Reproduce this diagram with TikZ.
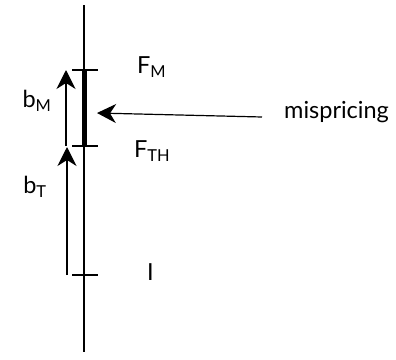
\documentclass[tikz,border=0pt]{standalone}
\usepackage{fontspec}
\setmainfont{Lato}
\usetikzlibrary{arrows.meta, positioning}

\begin{document}
\begin{tikzpicture}[x=1pt,y=-1pt, every node/.style={font=\fontsize{23.5}{26}\selectfont, inner sep=0pt},
    tick/.style={line width=1.6pt},
    up/.style={line width=1.2pt, -{Stealth[length=19pt,width=19pt,inset=6pt]}}]
    \useasboundingbox (0,0) rectangle (396,359);
    % price axis
    \coordinate (axtop) at (84,5);
    \coordinate (axbot) at (84,352);
    \coordinate (fm) at (84,70);
    \coordinate (fth) at (84,146);
    \coordinate (iv) at (84,275);
    \draw[line width=1.8pt] (axtop) -- (axbot);
    \draw[tick] ([xshift=-12pt]fm) -- ([xshift=14pt]fm);
    \draw[tick] ([xshift=-12pt]fth) -- ([xshift=14pt]fth);
    \draw[tick] ([xshift=-12pt]iv) -- ([xshift=14pt]iv);
    \draw[line width=5pt] (fm) -- (fth);
    % labels on the right
    \node[anchor=west] (lfm) at (137,67) {F\textsubscript{M}};
    \node[anchor=west] (lfth) at (134,151) {F\textsubscript{TH}};
    \node[anchor=west] (li) at (147,272) {I};
    % spreads on the left
    \coordinate (bmlo) at (66,146);
    \coordinate (bmhi) at (66,70);
    \coordinate (btlo) at (67,275);
    \coordinate (bthi) at (67,147);
    \draw[up] (bmlo) -- (bmhi);
    \draw[up] (btlo) -- (bthi);
    \node (lbm) at (37,101) {b\textsubscript{M}};
    \node (lbt) at (35,187) {b\textsubscript{T}};
    % mispricing
    \node[anchor=west] (mis) at (284,112) {mispricing};
    \coordinate (hit) at (97,113);
    \draw[up] ([xshift=-22pt,yshift=-5pt]mis.west) -- (hit);
\end{tikzpicture}
\end{document}
